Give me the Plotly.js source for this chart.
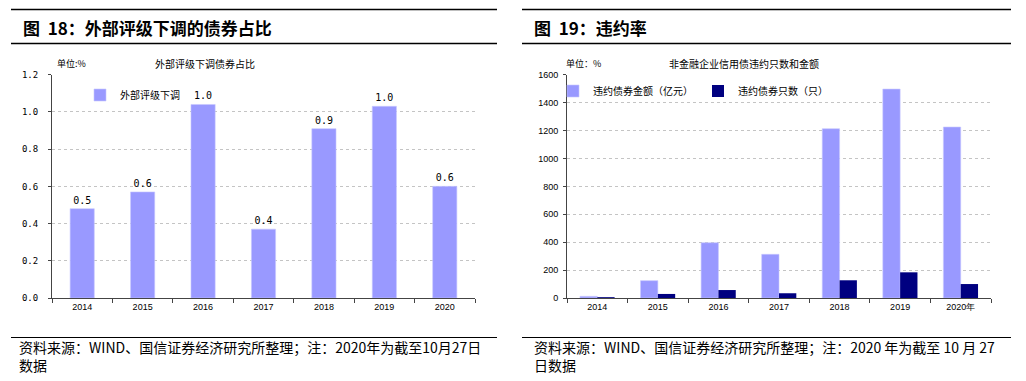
<!DOCTYPE html>
<html>
<head>
<meta charset="utf-8">
<script src="https://cdn.plot.ly/plotly-3.0.1.min.js"></script>
<style>html,body{margin:0;padding:0;background:#fff;}#chart{width:1026px;height:381px;}</style>
</head>
<body>
<div id="chart"></div>
<script>
// ---- data ----
const years = ['2014','2015','2016','2017','2018','2019','2020'];
const downgradeShare = [0.48, 0.57, 1.04, 0.37, 0.91, 1.03, 0.60];
const defaultYears = ['2014','2015','2016','2017','2018','2019','2020年'];
const defaultAmount = [12, 124, 396, 313, 1213, 1497, 1225];
const defaultCount = [6, 29, 57, 34, 127, 184, 100];
const leftSeriesName = '外部评级下调';
const rightSeriesNames = ['违约债券金额（亿元）', '违约债券只数（只）'];

const W = 1026, H = 381;
const px = v => v / W;
const py = v => 1 - v / H;

const CJK = '"Noto Sans CJK SC", "Noto Sans", sans-serif';
const MONO = '"DejaVu Sans Mono", "Liberation Mono", monospace';
const ARIAL = '"Liberation Sans", Arial, sans-serif';

const traces = [
  {
    type: 'bar', x: years, y: downgradeShare, name: leftSeriesName,
    xaxis: 'x', yaxis: 'y', width: 0.4,
    marker: {color: '#9999FF', line: {color: '#C8C8FF', width: 0.6}},
    texttemplate: '%{y:.1f}', textposition: 'outside', cliponaxis: false,
    textfont: {family: MONO, size: 10, color: '#000'},
    legend: 'legend', hoverinfo: 'x+y'
  },
  {
    type: 'bar', x: defaultYears, y: defaultAmount, name: rightSeriesNames[0],
    xaxis: 'x2', yaxis: 'y2', width: 0.286, offset: -0.286,
    marker: {color: '#9999FF', line: {color: '#C8C8FF', width: 0.6}},
    legend: 'legend2'
  },
  {
    type: 'bar', x: defaultYears, y: defaultCount, name: rightSeriesNames[1],
    xaxis: 'x2', yaxis: 'y2', width: 0.286, offset: 0,
    marker: {color: '#000080'},
    legend: 'legend2'
  }
];

const axisCommonX = {
  type: 'category', showline: true, linecolor: '#444', linewidth: 1,
  ticks: 'outside', ticklen: 4, tickcolor: '#444', tickson: 'boundaries',
  showgrid: false, zeroline: false,
  tickfont: {family: ARIAL, size: 9, color: '#000'}, fixedrange: true
};
const axisCommonY = {
  showline: true, linecolor: '#444', linewidth: 1,
  ticks: 'outside', ticklen: 3, tickcolor: '#444',
  showgrid: true, gridcolor: '#c4c4c4', gridwidth: 1, griddash: 'dot',
  zeroline: false, fixedrange: true
};

const plotTop = 74.7, plotBottom = 298;

const layout = {
  width: W, height: H,
  margin: {l: 0, r: 0, t: 0, b: 0},
  paper_bgcolor: '#fff', plot_bgcolor: '#fff',
  barmode: 'group', bargap: 0.6,
  font: {family: CJK, size: 10, color: '#000'},
  xaxis: Object.assign({}, axisCommonX, {domain: [px(52), px(475)], anchor: 'y'}),
  yaxis: Object.assign({}, axisCommonY, {
    domain: [py(plotBottom), py(plotTop)], anchor: 'x',
    range: [0, 1.2], dtick: 0.2, tickformat: '.1f', ticklabelstandoff: 8,
    tickfont: {family: MONO, size: 9, color: '#000'}
  }),
  xaxis2: Object.assign({}, axisCommonX, {domain: [px(567), px(991)], anchor: 'y2'}),
  yaxis2: Object.assign({}, axisCommonY, {
    domain: [py(plotBottom), py(plotTop)], anchor: 'x2',
    range: [0, 1600], dtick: 200, ticklabelstandoff: 3,
    tickfont: {family: ARIAL, size: 9, color: '#000'}
  }),
  legend: {
    x: px(80), y: py(95), xanchor: 'left', yanchor: 'middle',
    bgcolor: 'rgba(0,0,0,0)', font: {family: CJK, size: 10, color: '#000'},
    itemwidth: 30, tracegroupgap: 0
  },
  legend2: {
    x: px(553), y: py(91), xanchor: 'left', yanchor: 'middle',
    orientation: 'h', bgcolor: 'rgba(0,0,0,0)',
    font: {family: CJK, size: 10, color: '#000'}, itemwidth: 30
  },
  showlegend: true,
  shapes: [
    {type: 'line', xref: 'paper', yref: 'paper', x0: px(11), x1: px(497), y0: py(9.5), y1: py(9.5), line: {color: '#000', width: 1.3}},
    {type: 'line', xref: 'paper', yref: 'paper', x0: px(11), x1: px(497), y0: py(43.5), y1: py(43.5), line: {color: '#000', width: 1.3}},
    {type: 'line', xref: 'paper', yref: 'paper', x0: px(522), x1: px(1011), y0: py(9.5), y1: py(9.5), line: {color: '#000', width: 1.3}},
    {type: 'line', xref: 'paper', yref: 'paper', x0: px(522), x1: px(1011), y0: py(43.5), y1: py(43.5), line: {color: '#000', width: 1.3}},
    {type: 'line', xref: 'paper', yref: 'paper', x0: px(11), x1: px(497), y0: py(337.5), y1: py(337.5), line: {color: '#000', width: 1}},
    {type: 'line', xref: 'paper', yref: 'paper', x0: px(522), x1: px(1011), y0: py(337.5), y1: py(337.5), line: {color: '#000', width: 1}}
  ],
  annotations: [
    {xref: 'paper', yref: 'paper', x: px(21), y: py(28), xanchor: 'left', yanchor: 'middle', showarrow: false,
     text: '<b>图  18：外部评级下调的债券占比</b>', font: {family: CJK, size: 17, color: '#000'}},
    {xref: 'paper', yref: 'paper', x: px(532), y: py(28), xanchor: 'left', yanchor: 'middle', showarrow: false,
     text: '<b>图  19：违约率</b>', font: {family: CJK, size: 17, color: '#000'}},
    {xref: 'paper', yref: 'paper', x: px(55), y: py(63), xanchor: 'left', yanchor: 'middle', showarrow: false,
     text: '单位:%', font: {family: CJK, size: 9, color: '#000'}},
    {xref: 'paper', yref: 'paper', x: px(153), y: py(63), xanchor: 'left', yanchor: 'middle', showarrow: false,
     text: '外部评级下调债券占比', font: {family: CJK, size: 10, color: '#000'}},
    {xref: 'paper', yref: 'paper', x: px(564), y: py(63), xanchor: 'left', yanchor: 'middle', showarrow: false,
     text: '单位：%', font: {family: CJK, size: 9, color: '#000'}},
    {xref: 'paper', yref: 'paper', x: px(667), y: py(63), xanchor: 'left', yanchor: 'middle', showarrow: false,
     text: '非金融企业信用债违约只数和金额', font: {family: CJK, size: 10, color: '#000'}},
    {xref: 'paper', yref: 'paper', x: px(17), y: py(346.5), xanchor: 'left', yanchor: 'middle', showarrow: false,
     text: '资料来源：WIND、国信证券经济研究所整理；注：2020年为截至10月27日', font: {family: CJK, size: 14, color: '#000'}},
    {xref: 'paper', yref: 'paper', x: px(17), y: py(365), xanchor: 'left', yanchor: 'middle', showarrow: false,
     text: '数据', font: {family: CJK, size: 14, color: '#000'}},
    {xref: 'paper', yref: 'paper', x: px(532), y: py(346.5), xanchor: 'left', yanchor: 'middle', showarrow: false,
     text: '资料来源：WIND、国信证券经济研究所整理；注：2020 年为截至 10 月 27', font: {family: CJK, size: 14, color: '#000'}},
    {xref: 'paper', yref: 'paper', x: px(532), y: py(365), xanchor: 'left', yanchor: 'middle', showarrow: false,
     text: '日数据', font: {family: CJK, size: 14, color: '#000'}}
  ]
};

Plotly.newPlot('chart', traces, layout, {displayModeBar: false, staticPlot: true});
</script>
</body>
</html>
